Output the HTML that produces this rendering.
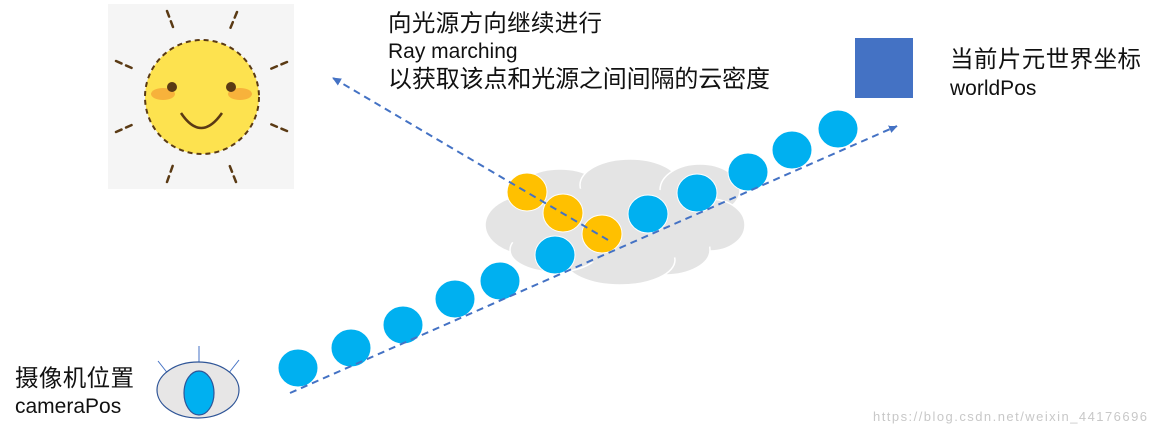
<!DOCTYPE html>
<html><head><meta charset="utf-8"><style>
html,body{margin:0;padding:0;background:#fff;width:1157px;height:435px;overflow:hidden}
text{font-family:"Liberation Sans","Noto Sans CJK SC",sans-serif;fill:#111}
</style></head><body>
<svg width="1157" height="435" viewBox="0 0 1157 435" xmlns="http://www.w3.org/2000/svg">
<defs>
<marker id="ah" markerWidth="10" markerHeight="10" refX="8" refY="5" orient="auto" markerUnits="userSpaceOnUse">
<path d="M0,1 L9,5 L0,9 Z" fill="#4472c4"/></marker>
</defs>
<rect x="108" y="4" width="186" height="185" fill="#f5f5f5"/>
<g stroke="#5a3a14" stroke-width="2.5" stroke-linecap="round">
<line x1="167" y1="11" x2="173" y2="27" stroke-dasharray="6 5"/>
<line x1="237" y1="12" x2="230" y2="29" stroke-dasharray="6 5"/>
<line x1="116" y1="61" x2="134" y2="69" stroke-dasharray="6 5"/>
<line x1="287" y1="62" x2="268" y2="70" stroke-dasharray="6 5"/>
<line x1="116" y1="132" x2="134" y2="124" stroke-dasharray="6 5"/>
<line x1="287" y1="131" x2="268" y2="123" stroke-dasharray="6 5"/>
<line x1="167" y1="182" x2="173" y2="165" stroke-dasharray="6 5"/>
<line x1="236" y1="182" x2="229" y2="164" stroke-dasharray="6 5"/>
</g>
<circle cx="202" cy="97" r="57" fill="#fde24f" stroke="#5a3a14" stroke-width="2" stroke-dasharray="5 4"/>
<ellipse cx="163" cy="94" rx="12" ry="6" fill="#f7b23b"/>
<ellipse cx="240" cy="94" rx="12" ry="6" fill="#f7b23b"/>
<circle cx="172" cy="87" r="5" fill="#5a3a14"/>
<circle cx="231" cy="87" r="5" fill="#5a3a14"/>
<path d="M181,113 Q201,143 222,113" fill="none" stroke="#5a3a14" stroke-width="2.5"/>
<g fill="#e4e4e4" stroke="#fff" stroke-width="1.5">
<ellipse cx="530" cy="225" rx="45" ry="30"/>
<ellipse cx="560" cy="195" rx="45" ry="26"/>
<ellipse cx="630" cy="185" rx="50" ry="26"/>
<ellipse cx="700" cy="190" rx="40" ry="26"/>
<ellipse cx="710" cy="225" rx="35" ry="26"/>
<ellipse cx="665" cy="250" rx="45" ry="25"/>
<ellipse cx="620" cy="260" rx="55" ry="25"/>
<ellipse cx="555" cy="250" rx="45" ry="22"/>
</g>
<ellipse cx="615" cy="225" rx="115" ry="38" fill="#e4e4e4"/>
<g fill="#00b0f0" stroke="#fff" stroke-width="1">
<ellipse cx="298" cy="368" rx="20" ry="19"/>
<ellipse cx="351" cy="348" rx="20" ry="19"/>
<ellipse cx="403" cy="325" rx="20" ry="19"/>
<ellipse cx="455" cy="299" rx="20" ry="19"/>
<ellipse cx="500" cy="281" rx="20" ry="19"/>
<ellipse cx="555" cy="255" rx="20" ry="19"/>
<ellipse cx="648" cy="214" rx="20" ry="19"/>
<ellipse cx="697" cy="193" rx="20" ry="19"/>
<ellipse cx="748" cy="172" rx="20" ry="19"/>
<ellipse cx="792" cy="150" rx="20" ry="19"/>
<ellipse cx="838" cy="129" rx="20" ry="19"/>
</g>
<g fill="#ffc000" stroke="#fff" stroke-width="1">
<ellipse cx="527" cy="192" rx="20" ry="19"/>
<ellipse cx="563" cy="213" rx="20" ry="19"/>
<ellipse cx="602" cy="234" rx="20" ry="19"/>
</g>
<line x1="290" y1="393" x2="897" y2="126" stroke="#4472c4" stroke-width="2" stroke-dasharray="7 5" marker-end="url(#ah)"/>
<line x1="608" y1="240" x2="333" y2="78" stroke="#4472c4" stroke-width="2" stroke-dasharray="7 5" marker-end="url(#ah)"/>
<rect x="855" y="38" width="58" height="60" fill="#4472c4"/>
<g stroke="#4472c4" stroke-width="1">
<line x1="199" y1="346" x2="199" y2="367"/>
<line x1="158" y1="361" x2="169" y2="375"/>
<line x1="239" y1="360" x2="228" y2="374"/>
</g>
<ellipse cx="198" cy="390" rx="41" ry="28" fill="#e7e6e6" stroke="#2f5597" stroke-width="1.2"/>
<ellipse cx="199" cy="393" rx="15" ry="22" fill="#00b0f0" stroke="#2f5597" stroke-width="1.2"/>
<text x="388" y="31" font-size="23.5" textLength="214">向光源方向继续进行</text>
<text x="388" y="58" font-size="21">Ray marching</text>
<text x="388" y="87" font-size="24" textLength="382">以获取该点和光源之间间隔的云密度</text>
<text x="950" y="67" font-size="23.5" textLength="191">当前片元世界坐标</text>
<text x="950" y="95" font-size="21">worldPos</text>
<text x="15" y="386" font-size="23.5" textLength="119">摄像机位置</text>
<text x="15" y="413" font-size="21">cameraPos</text>
<text x="873" y="421" font-size="13" textLength="274" style="fill:#c8c8c8">https://blog.csdn.net/weixin_44176696</text>
</svg>
</body></html>
